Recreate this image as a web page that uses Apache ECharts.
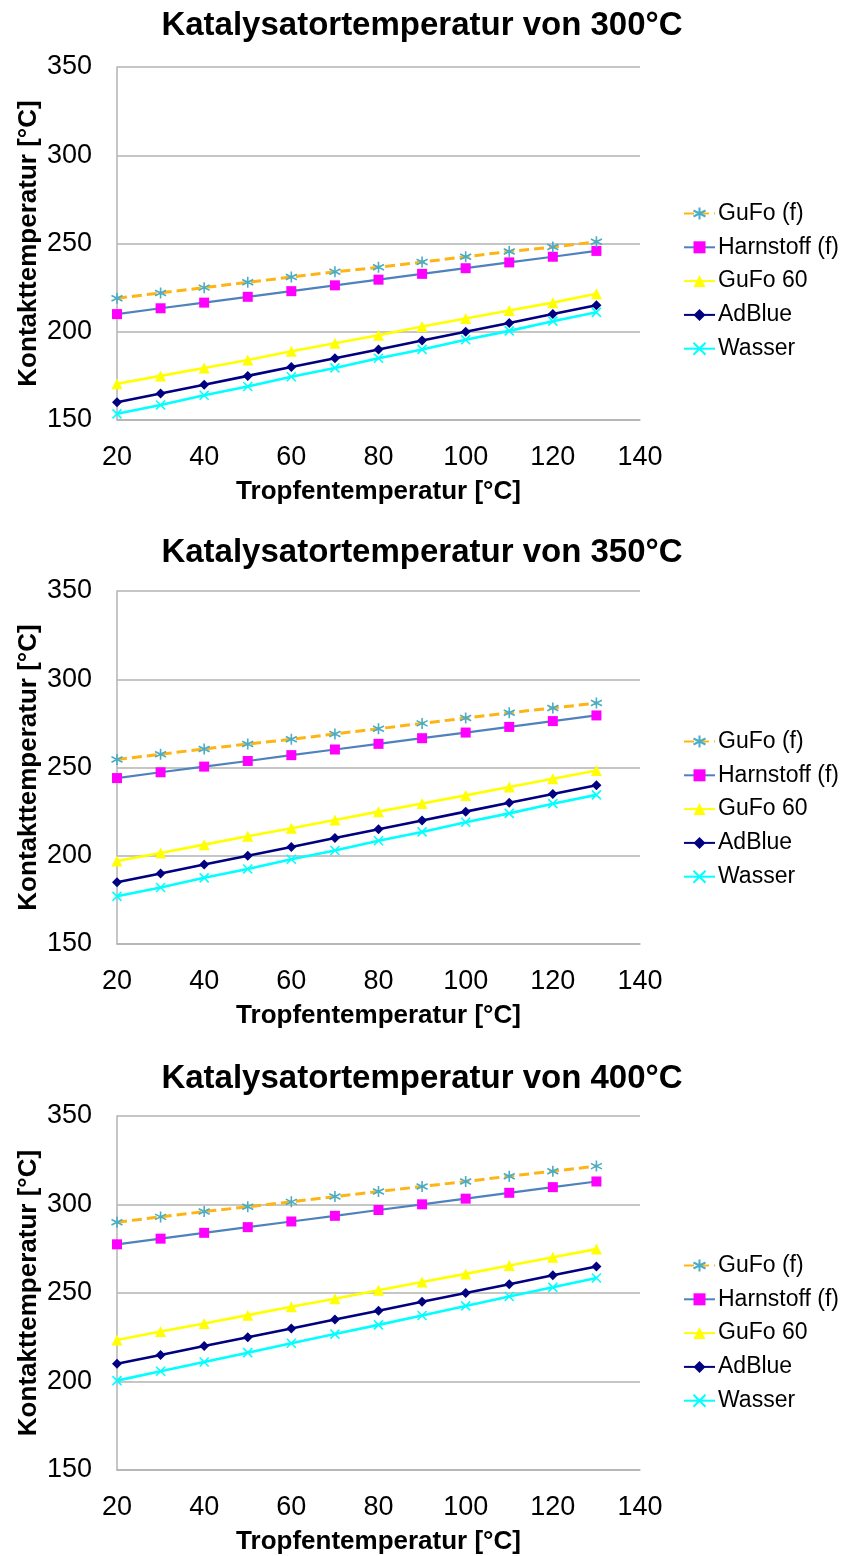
<!DOCTYPE html>
<html>
<head>
<meta charset="utf-8">
<script src="https://cdn.jsdelivr.net/npm/echarts@6/dist/echarts.min.js"></script>
<style>
  html, body { margin: 0; padding: 0; background: #ffffff; }
  #chart { width: 844px; height: 1556px; }
</style>
</head>
<body>
<div id="chart"></div>
<script>
// Tropfentemperatur (x) in °C
const dropTemps = [20, 30, 40, 50, 60, 70, 80, 90, 100, 110, 120, 130];

const seriesNames = ['GuFo (f)', 'Harnstoff (f)', 'GuFo 60', 'AdBlue', 'Wasser'];
const chartTitles = [
  'Katalysatortemperatur von 300°C',
  'Katalysatortemperatur von 350°C',
  'Katalysatortemperatur von 400°C'
];
const xTicks = [20, 40, 60, 80, 100, 120, 140];
const yTicks = [150, 200, 250, 300, 350];

// Kontakttemperatur bei 300 °C Katalysatortemperatur
const gufoF300      = [219, 222, 225, 228, 231, 234, 236.5, 239.5, 242.5, 245.5, 248, 251];
const harnstoffF300 = [210, 213.3, 216.5, 219.8, 223, 226.3, 229.5, 232.8, 236, 239.3, 242.5, 245.8];
const gufo60_300    = [170.5, 175, 179.5, 184, 189, 193.5, 198, 203, 207.5, 212, 216.5, 221.5];
const adblue300     = [160, 165, 170, 175, 180, 185, 190, 195, 200, 205, 210, 215];
const wasser300     = [153.5, 158.5, 164, 169, 174.5, 179.5, 185, 190, 195.5, 200.5, 206, 211];

// Kontakttemperatur bei 350 °C Katalysatortemperatur
const gufoF350      = [254.5, 257.5, 260.5, 263.3, 266, 269, 272, 275, 278, 281, 283.7, 286.5];
const harnstoffF350 = [244, 247.3, 250.5, 253.7, 257, 260.2, 263.4, 266.6, 269.8, 273, 276.3, 279.5];
const gufo60_350    = [197, 201.6, 206.3, 211, 215.6, 220.3, 225, 229.6, 234.2, 239, 243.6, 248.3];
const adblue350     = [185, 190, 195, 200, 205, 210, 215, 220, 225, 230, 235, 240];
const wasser350     = [177, 182, 187.5, 192.5, 198, 203, 208.5, 213.5, 219, 224, 229.5, 234.5];

// Kontakttemperatur bei 400 °C Katalysatortemperatur
const gufoF400      = [290, 293, 296, 298.7, 301.5, 304.5, 307.3, 310.2, 313, 316, 318.8, 321.7];
const harnstoffF400 = [277.5, 280.7, 284, 287.2, 290.4, 293.6, 296.9, 300.1, 303.3, 306.6, 309.8, 313];
const gufo60_400    = [223.5, 228.2, 232.8, 237.5, 242.2, 246.8, 251.5, 256.2, 260.8, 265.5, 270.2, 274.8];
const adblue400     = [210, 215, 220, 225, 230, 235, 240, 245, 250, 255, 260, 265];
const wasser400     = [200.5, 205.8, 211, 216.3, 221.6, 226.8, 232, 237.3, 242.7, 248, 253.2, 258.5];

const panelData = [
  [gufoF300, harnstoffF300, gufo60_300, adblue300, wasser300],
  [gufoF350, harnstoffF350, gufo60_350, adblue350, wasser350],
  [gufoF400, harnstoffF400, gufo60_400, adblue400, wasser400]
];

const FONT = "'Liberation Sans', Arial, sans-serif";

// Panel layout (pixels)
const gridTops = [67, 591, 1116];
const gridHeights = [353, 353, 354];
const titleTops = [4, 531, 1057];
const legendTops = [197, 725, 1249];

const starPath = 'path://M5,0 L5,10 M0.7,2.5 L9.3,7.5 M9.3,2.5 L0.7,7.5';
const crossPath = 'path://M0,0 L10,10 M10,0 L0,10';

// Line/marker style per series
const styles = [
  { line: { color: '#FDB515', width: 3, type: [10, 5] }, symbol: starPath, size: 11,
    item: { color: 'none', borderColor: '#4BACC6', borderWidth: 1.6 } },
  { line: { color: '#4F81BD', width: 2.2 }, symbol: 'rect', size: 10,
    item: { color: '#FF00FF', borderColor: '#FF00FF', borderWidth: 0 } },
  { line: { color: '#FFFF00', width: 2.6 }, symbol: 'triangle', size: 11,
    item: { color: '#FFFF00', borderColor: '#FFFF00', borderWidth: 0 } },
  { line: { color: '#000080', width: 2.6 }, symbol: 'diamond', size: 10,
    item: { color: '#000080', borderColor: '#000080', borderWidth: 0 } },
  { line: { color: '#00FFFF', width: 2.6 }, symbol: crossPath, size: 9,
    item: { color: 'none', borderColor: '#00FFFF', borderWidth: 1.6 } }
];

const grids = [], xAxes = [], yAxes = [], titles = [], legends = [], series = [];

panelData.forEach((panel, p) => {
  grids.push({ left: 117, width: 523, top: gridTops[p], height: gridHeights[p], containLabel: false });
  titles.push({
    text: chartTitles[p], left: 'center', top: titleTops[p],
    textStyle: { fontFamily: FONT, fontSize: 33, fontWeight: 'bold', color: '#000' }
  });
  legends.push({
    data: seriesNames, orient: 'vertical', left: 678, top: legendTops[p],
    itemWidth: 31, itemHeight: 15, itemGap: 10.8,
    textStyle: { fontFamily: FONT, fontSize: 23, color: '#000', padding: [0, 0, 0, -2] },
    selectedMode: false
  });
  xAxes.push({
    type: 'value', gridIndex: p, min: xTicks[0], max: xTicks[xTicks.length - 1], interval: 20,
    name: 'Tropfentemperatur [°C]', nameLocation: 'middle', nameGap: 59,
    nameTextStyle: { fontFamily: FONT, fontSize: 26, fontWeight: 'bold', color: '#000' },
    axisLine: { show: true, lineStyle: { color: '#B3B3B3', width: 1.5 } },
    axisTick: { show: false },
    splitLine: { show: false },
    axisLabel: { fontFamily: FONT, fontSize: 27, color: '#000', margin: 24 }
  });
  yAxes.push({
    type: 'value', gridIndex: p, min: yTicks[0], max: yTicks[yTicks.length - 1], interval: 50,
    name: 'Kontakttemperatur [°C]', nameLocation: 'middle', nameGap: 75, nameMoveOverlap: false,
    nameTextStyle: { fontFamily: FONT, fontSize: 26, fontWeight: 'bold', color: '#000' },
    axisLine: { show: true, lineStyle: { color: '#B3B3B3', width: 1.5 } },
    axisTick: { show: false },
    splitLine: { show: true, lineStyle: { color: '#B3B3B3', width: 1.5 } },
    axisLabel: { fontFamily: FONT, fontSize: 27, color: '#000', margin: 25 }
  });
  panel.forEach((values, s) => {
    const st = styles[s];
    series.push({
      name: seriesNames[s], type: 'line', xAxisIndex: p, yAxisIndex: p,
      data: dropTemps.map((x, i) => [x, values[i]]),
      symbol: st.symbol, symbolSize: st.size, showAllSymbol: true,
      lineStyle: st.line, itemStyle: st.item,
      z: 10 - s, animation: false, silent: true
    });
  });
});

const chart = echarts.init(document.getElementById('chart'), null, { renderer: 'canvas' });
chart.setOption({
  backgroundColor: '#ffffff',
  animation: false,
  title: titles, legend: legends, grid: grids,
  xAxis: xAxes, yAxis: yAxes, series: series
});
</script>
</body>
</html>
